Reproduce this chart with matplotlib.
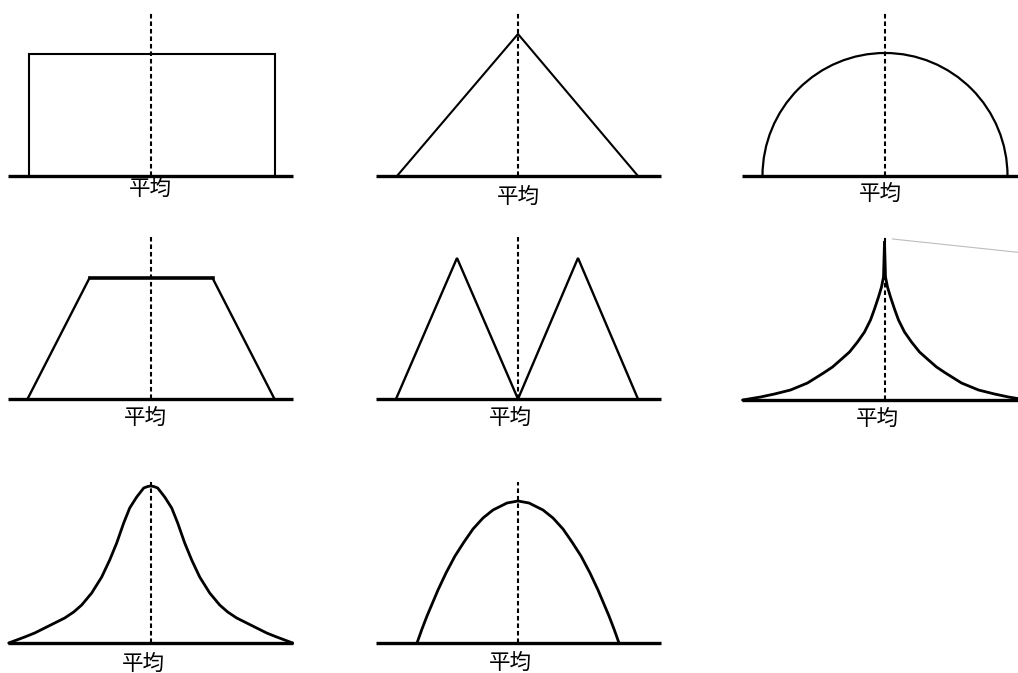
import matplotlib
matplotlib.use("Agg")
import matplotlib.pyplot as plt
from matplotlib.patches import Arc

plt.rcParams["font.family"] = ["Noto Sans CJK JP", "DejaVu Sans"]

# Shapes are given as (offset from the mean, height above the baseline).
MEAN_LABEL = "平均"

UNIFORM_X = [-122, -122, 124, 124]
UNIFORM_H = [0, 122, 122, 0]

TRIANGLE_X = [-121, 0, 120]
TRIANGLE_H = [0, 142, 0]

SEMI_LEFT = -122
SEMI_RIGHT = 123
SEMI_HEIGHT = 123

TRAPEZOID_X = [-123, -61, 62, 124]
TRAPEZOID_H = [0, 121, 121, 0]

BIMODAL_X = [-122, -61, 0, 60, 120]
BIMODAL_H = [0, 141, 0, 141, 0]

CUSP_LEFT_X = [-142, -124, -110, -94, -77, -61, -52, -44, -35, -27, -20, -14,
               -10, -6, -3, -1, 0]
CUSP_LEFT_H = [0, 3, 6, 10, 17, 27, 33, 40, 48, 58, 68, 80,
               91, 103, 113, 123, 158]
CUSP_RIGHT_X = [0, 1, 3, 6, 10, 14, 20, 27, 35, 44, 52, 61,
                77, 94, 110, 124, 142]
CUSP_RIGHT_H = [158, 123, 113, 103, 91, 80, 68, 58, 48, 40, 33, 27,
                17, 10, 6, 3, 0]
STRAY_X = [8, 140]
STRAY_H = [161, 147]

BELL_X = [-142, -134, -126, -116, -106, -96, -86, -77, -69, -59, -49, -41,
          -34, -27, -21, -14, -7, -3, 0,
          3, 7, 14, 21, 27, 34, 41, 49, 59, 69, 77, 86, 96, 106, 116, 126,
          134, 142]
BELL_H = [0, 3, 6, 10, 15, 20, 25, 31, 38, 50, 66, 83,
          100, 120, 135, 146, 155, 156.5, 157,
          156.5, 155, 146, 135, 120, 100, 83, 66, 50, 38, 31, 25, 20, 15, 10, 6,
          3, 0]

DOME_X = [-101, -96, -91, -80, -72, -63, -54, -45, -35, -25, -11, 0,
          11, 25, 35, 45, 54, 63, 72, 80, 91, 96, 101]
DOME_H = [0, 14, 27, 53, 70, 87, 101, 114, 125, 133, 140, 142,
          140, 133, 125, 114, 101, 87, 70, 53, 27, 14, 0]

BASE_HALF = 142.5

# layout in pixels: mean x, baseline y, dashed line height, label offset
W, H = 1018, 673
PANELS = [
    (150.5, 176, 163, (0, 13)),
    (518, 176, 163, (0, 21)),
    (884.5, 176, 163, (-4, 18)),
    (150.5, 399, 162, (-5, 19)),
    (518, 399, 162, (-8, 19)),
    (884.5, 400, 163, (-7, 19)),
    (150.7, 643, 161, (-7, 21)),
    (518, 643, 161, (-8, 20)),
]


def panel_axes(fig, mean_x, base_y):
    rect = [(mean_x - 150) / W, 1 - (base_y + 30) / H, 300 / W, 200 / H]
    ax = fig.add_axes(rect)
    ax.set_xlim(-150, 150)
    ax.set_ylim(-30, 170)
    ax.axis("off")
    return ax


def decorate(ax, dash_h, label_off):
    ax.plot([-BASE_HALF, BASE_HALF], [0, 0], color="black", lw=2.4,
            solid_capstyle="butt", clip_on=False, zorder=3)
    ax.plot([0, 0], [0, dash_h], color="black", lw=1.5, dashes=(2.2, 1.4),
            clip_on=False, zorder=4)
    ax.text(label_off[0], -label_off[1], MEAN_LABEL, fontsize=15.5,
            ha="center", va="center", color="black")


fig = plt.figure(figsize=(W / 100, H / 100), dpi=100)
fig.patch.set_facecolor("white")

axes = [panel_axes(fig, p[0], p[1]) for p in PANELS]
line = dict(color="black", clip_on=False, solid_joinstyle="miter")
curve = dict(color="black", clip_on=False, solid_joinstyle="round",
             solid_capstyle="round")

axes[0].plot(UNIFORM_X, UNIFORM_H, lw=1.5, **line)
axes[1].plot(TRIANGLE_X, TRIANGLE_H, lw=1.5, **line)
axes[2].add_patch(Arc(((SEMI_LEFT + SEMI_RIGHT) / 2, 0), SEMI_RIGHT - SEMI_LEFT,
                      2 * SEMI_HEIGHT, theta1=0, theta2=180, lw=1.6,
                      color="black", clip_on=False))
axes[3].plot(TRAPEZOID_X[:2], TRAPEZOID_H[:2], lw=1.7, **line)
axes[3].plot(TRAPEZOID_X[2:], TRAPEZOID_H[2:], lw=1.7, **line)
axes[3].plot(TRAPEZOID_X[1:3], TRAPEZOID_H[1:3], lw=2.6, **line)
axes[4].plot(BIMODAL_X, BIMODAL_H, lw=1.7, **line)
axes[5].plot(CUSP_LEFT_X, CUSP_LEFT_H, lw=2.0, **curve)
axes[5].plot(CUSP_RIGHT_X, CUSP_RIGHT_H, lw=2.0, **curve)
axes[5].plot(STRAY_X, STRAY_H, lw=0.8, color="#bdbdbd", clip_on=False)
axes[6].plot(BELL_X, BELL_H, lw=2.0, **curve)
axes[7].plot(DOME_X, DOME_H, lw=2.0, **curve)

for ax, p in zip(axes, PANELS):
    decorate(ax, p[2], p[3])

fig.savefig("out.png", dpi=100, facecolor="white")
